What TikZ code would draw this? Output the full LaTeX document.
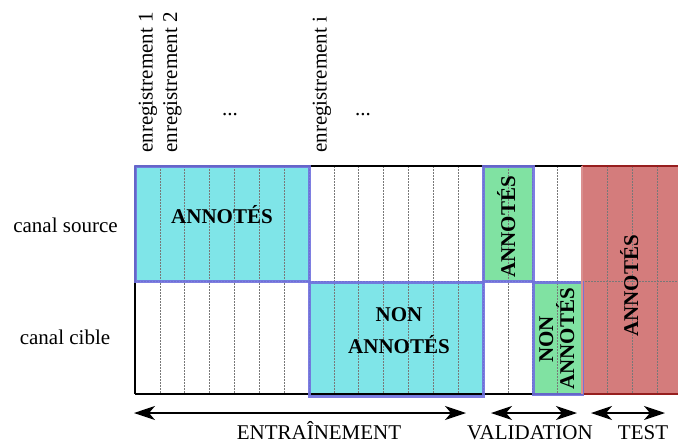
\documentclass[tikz,border=0pt]{standalone}
\usepackage{fontspec}
\setmainfont{Liberation Serif}
\usetikzlibrary{arrows.meta}
\definecolor{cyanf}{RGB}{127,229,232}
\definecolor{greenf}{RGB}{128,226,162}
\definecolor{redf}{RGB}{212,124,124}
\definecolor{blueb}{RGB}{112,112,222}
\definecolor{redb}{RGB}{150,30,30}
\definecolor{gridc}{RGB}{120,120,120}
\tikzset{
  txt/.style={font=\fontsize{21}{25}\selectfont, inner sep=0pt},
  btxt/.style={font=\fontsize{21}{25}\selectfont\bfseries, inner sep=0pt},
  fillbox/.style={inner sep=0pt, outer sep=0pt, anchor=north west, draw=none},
  bborder/.style={draw=blueb, line width=3pt, draw opacity=0.9},
  gridline/.style={draw=gridc, line width=0.7pt, dash pattern=on 1.5pt off 1.5pt},
  frameline/.style={draw=black, line width=1.8pt},
  spanarrow/.style={line width=1.2pt, {Stealth[length=21pt,width=14pt,inset=6pt]}-{Stealth[length=21pt,width=14pt,inset=6pt]}}
}
\begin{document}
\begin{tikzpicture}[x=1pt,y=-1pt]
\useasboundingbox (0,0) rectangle (678,442);
% filled zones
\node[fillbox, fill=cyanf, minimum width=174pt, minimum height=115pt] (srcA) at (135,166) {};
\node[fillbox, fill=cyanf, minimum width=174pt, minimum height=114pt] (cibN) at (309,282) {};
\node[fillbox, fill=greenf, minimum width=49.7pt, minimum height=115pt] (valA) at (483.3,166) {};
\node[fillbox, fill=greenf, minimum width=49.7pt, minimum height=112pt] (valN) at (533,282) {};
\node[fillbox, fill=redf, minimum width=100pt, minimum height=228pt] (tstA) at (582,166) {};
% grid
\foreach \k in {1,...,21} {
  \draw[gridline] ({135+24.857*\k},166) -- ({135+24.857*\k},394);
}
\draw[gridline] (135,281) -- (678,281);
% frame
\draw[frameline] (135,166) -- (582,166);
\draw[frameline] (135,394) -- (582,394);
\draw[frameline] (135,166) -- (135,394);
\draw[line width=1.8pt, draw=redb] (582,166) -- (678,166);
\draw[line width=1.8pt, draw=redb] (582,394) -- (678,394);
% borders
\draw[bborder] (srcA.north west) rectangle (srcA.south east);
\draw[bborder] (cibN.north west) rectangle (cibN.south east);
\draw[bborder] (valA.north west) rectangle (valA.south east);
\draw[bborder] (valN.north west) rectangle (valN.south east);
\draw[draw=redf!85!white, line width=1.5pt] (tstA.north west) -- (tstA.south west);
% box texts
\node[btxt, anchor=base] (tA1) at (222,223) {ANNOTÉS};
\node[btxt, anchor=base] (tN1) at (399,321) {NON};
\node[btxt, anchor=base] (tN2) at (399,353) {ANNOTÉS};
\node[btxt, anchor=base west, rotate=90] (tA2) at (515,278) {ANNOTÉS};
\node[btxt, anchor=base west, rotate=90] (tN3) at (553,363) {NON};
\node[btxt, anchor=base west, rotate=90] (tN4) at (574,390) {ANNOTÉS};
\node[btxt, anchor=base west, rotate=90] (tA3) at (638,337) {ANNOTÉS};
% row labels
\node[txt, anchor=base] (rs) at (65.5,232) {canal source};
\node[txt, anchor=base] (rc) at (65,344) {canal cible};
% column labels
\node[txt, anchor=base west, rotate=90] (e1) at (152.5,153) {enregistrement 1};
\node[txt, anchor=base west, rotate=90] (e2) at (177,153) {enregistrement 2};
\node[txt, anchor=base west, rotate=90] (ei) at (326.5,153) {enregistrement i};
\node[txt, anchor=base] (d1) at (230,115) {...};
\node[txt, anchor=base] (d2) at (363,115) {...};
% spans
\coordinate (eL) at (134,413);
\coordinate (eR) at (466,413);
\coordinate (vL) at (491,413);
\coordinate (vR) at (577,413);
\coordinate (tL) at (591,413);
\coordinate (tR) at (665,413);
\draw[spanarrow] (eL) -- (eR);
\draw[spanarrow] (vL) -- (vR);
\draw[spanarrow] (tL) -- (tR);
\node[txt, anchor=base] (lE) at (319,439) {ENTRAÎNEMENT};
\node[txt, anchor=base] (lV) at (530,439) {VALIDATION};
\node[txt, anchor=base] (lT) at (643,439) {TEST};
\end{tikzpicture}
\end{document}
